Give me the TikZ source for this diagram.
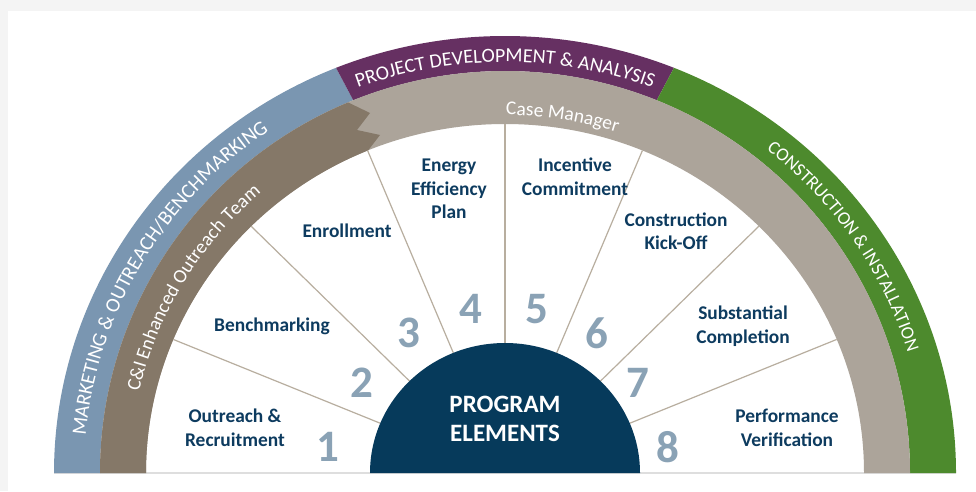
\documentclass[tikz,border=0pt]{standalone}
\usepackage{fontspec}
\setmainfont{Carlito}
\usetikzlibrary{decorations.text}
\definecolor{bgGray}{HTML}{F4F4F4}
\definecolor{bandBlue}{HTML}{7A96B1}
\definecolor{bandBrown}{HTML}{857868}
\definecolor{bandGray}{HTML}{ACA49A}
\definecolor{bandPurple}{HTML}{663062}
\definecolor{bandGreen}{HTML}{4D8A2D}
\definecolor{coreNavy}{HTML}{063A5B}
\definecolor{numBlue}{HTML}{8AA2B5}
\definecolor{labelNavy}{HTML}{0D3B5F}
\definecolor{spokeTan}{HTML}{B8AE9F}
\tikzset{
  lbl/.style={text=labelNavy, font=\bfseries\fontsize{19.4}{23.5}\selectfont, align=center, inner sep=0pt},
  num/.style={text=numBlue, font=\bfseries\fontsize{45}{45}\selectfont, inner sep=0pt},
  spoke/.style={draw=spokeTan, line width=1.2pt},
}
\begin{document}
\begin{tikzpicture}[x=1pt,y=1pt]
\useasboundingbox (0,0) rectangle (976,491);
\fill[bgGray] (0,0) rectangle (976,491);
\fill[white] (8,0) rectangle (976,480);
\coordinate (C) at (505,18);
\draw[black!13, line width=1.5pt] (54,18) -- (956,18);
\begin{scope}[shift={(505,18)}]
% outer band
\fill[bandBlue] (180:451 and 437) arc[start angle=180,end angle=112,x radius=451,y radius=437]
  -- (112:405 and 402) arc[start angle=112,end angle=180,x radius=405,y radius=402] -- cycle;
\fill[bandPurple] (112:451 and 437) arc[start angle=112,end angle=68,x radius=451,y radius=437]
  -- (68:405 and 402) arc[start angle=68,end angle=112,x radius=405,y radius=402] -- cycle;
\fill[bandGreen] (68:451 and 437) arc[start angle=68,end angle=0,x radius=451,y radius=437]
  -- (0:405 and 402) arc[start angle=0,end angle=68,x radius=405,y radius=402] -- cycle;
% inner band
\fill[bandGray] (180:405 and 402) arc[start angle=180,end angle=0,x radius=405,y radius=402]
  -- (0:359 and 349) arc[start angle=0,end angle=180,x radius=359,y radius=349] -- cycle;
\fill[bandBrown] (180:405 and 402) arc[start angle=180,end angle=112.8,x radius=405,y radius=402]
  -- (-135,360) -- (-148,343) -- (-125,338) -- (112.4:359 and 349)
  arc[start angle=112.4,end angle=180,x radius=359,y radius=349] -- cycle;
% spokes
\foreach \k in {1,...,7}{
  \coordinate (sin\k) at (22.5*\k:135 and 130);
  \coordinate (sout\k) at (22.5*\k:359 and 349);
  \draw[spoke] (sin\k) -- (sout\k);
}
% core
\fill[coreNavy] (0:135 and 130) arc[start angle=0,end angle=180,x radius=135,y radius=130] -- cycle;
% band texts
\path[decorate, decoration={text along path, text align=center, text color=white,
  text={|\fontsize{20.5}{20.5}\selectfont|MARKETING {\&} OUTREACH/BENCHMARKING}}]
  (180:421 and 413) arc[start angle=180,end angle=119,x radius=421,y radius=413];
\path[decorate, decoration={text along path, text align=center, text color=white,
  text={|\fontsize{19.5}{19.5}\selectfont|C{\&}I Enhanced Outreach Team}}]
  (180:375 and 369) arc[start angle=180,end angle=118,x radius=375,y radius=369];
\path[decorate, decoration={text along path, text align=center, text color=white,
  text={|\fontsize{20}{20}\selectfont|PROJECT DEVELOPMENT {\&} ANALYSIS}}]
  (112:421 and 411) arc[start angle=112,end angle=68,x radius=421,y radius=411];
\path[decorate, decoration={text along path, text align=center, text color=white,
  text={|\fontsize{19.5}{19.5}\selectfont|Case Manager}}]
  (100:366 and 358) arc[start angle=100,end angle=62,x radius=366,y radius=358];
\path[decorate, decoration={text along path, text align=center, text color=white,
  text={|\fontsize{18.5}{18.5}\selectfont|CONSTRUCTION {\&} INSTALLATION}}]
  (68:421 and 413) arc[start angle=68,end angle=0.4,x radius=421,y radius=413];
\end{scope}
% core text
\node[text=white, font=\bfseries\fontsize{25}{29}\selectfont, align=center, inner sep=0pt] (core) at (505,72.5) {PROGRAM\\ELEMENTS};
% labels
\node[lbl] (l1) at (235,63) {Outreach \&\\Recruitment};
\node[lbl] (l2) at (272,165) {Benchmarking};
\node[lbl] (l3) at (347,260) {Enrollment};
\node[lbl] (l4) at (449,302) {Energy\\Efficiency\\Plan};
\node[lbl] (l5) at (575,314) {Incentive\\Commitment};
\node[lbl] (l6) at (676,260) {Construction\\Kick-Off};
\node[lbl] (l7) at (743,165) {Substantial\\Completion};
\node[lbl] (l8) at (787,63) {Performance\\Verification};
% numbers
\node[num] (n1) at (328,44) {1};
\node[num] (n2) at (362,108) {2};
\node[num] (n3) at (409,158) {3};
\node[num] (n4) at (471,182) {4};
\node[num] (n5) at (537,182) {5};
\node[num] (n6) at (597,158) {6};
\node[num] (n7) at (638,108) {7};
\node[num] (n8) at (668,44) {8};
\end{tikzpicture}
\end{document}
